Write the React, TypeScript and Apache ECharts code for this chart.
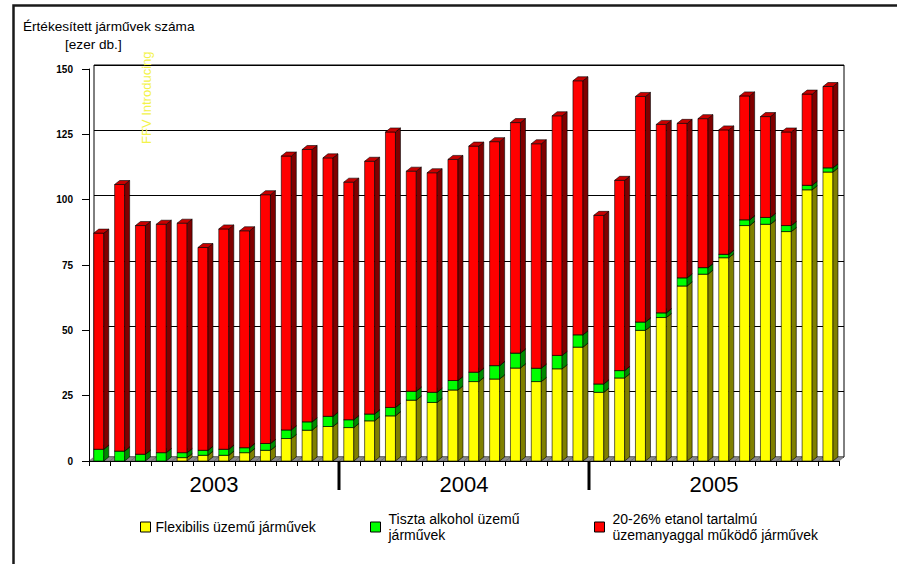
import React, { useEffect, useRef } from "react";
import * as echarts from "echarts";

// Monthly sales, thousand vehicles, 2003–2005
const years = ["2003", "2004", "2005"];
const monthNames = ["01", "02", "03", "04", "05", "06", "07", "08", "09", "10", "11", "12"];

const seriesNames = [
  "Flexibilis üzemű járművek",
  "Tiszta alkohol üzemű járművek",
  "20-26% etanol tartalmú üzemanyaggal működő járművek",
];
const legendLabels = [
  "Flexibilis üzemű járművek",
  "Tiszta alkohol üzemű\njárművek",
  "20-26% etanol tartalmú\nüzemanyaggal működő járművek",
];

const flexFuel = [
  0, 0, 0, 0, 1.3, 2.2, 2.2, 3.2, 4.1, 8.6, 11.8, 13.2,
  12.8, 15.4, 17.3, 23.3, 22.4, 27.2, 30.4, 31.4, 35.6, 30.4, 35.3, 43.6,
  26.3, 31.8, 50.0, 54.9, 67.0, 71.5, 77.8, 90.1, 90.6, 87.8, 103.8, 110.6,
];
const pureAlcohol = [
  4.5, 3.8, 2.6, 3.2, 1.9, 1.9, 2.3, 1.9, 2.6, 3.3, 3.2, 3.9,
  3.0, 2.6, 3.2, 3.4, 3.9, 3.6, 3.6, 5.1, 5.7, 5.1, 5.1, 4.7,
  3.2, 2.8, 3.2, 1.8, 3.1, 2.5, 1.3, 2.2, 2.6, 2.3, 1.7, 1.6,
];
const ethanolBlend = [
  82.7, 102.0, 87.5, 87.4, 87.8, 77.6, 84.3, 83.0, 95.2, 104.8, 104.2, 98.9,
  90.9, 96.7, 105.4, 84.2, 84.0, 84.6, 86.5, 85.7, 88.2, 85.9, 91.7, 97.2,
  64.5, 72.8, 86.3, 72.1, 59.1, 57.0, 47.6, 47.4, 38.6, 35.8, 34.9, 31.1,
];

const yTicks = { min: 0, max: 150, interval: 25 };

// front / side / top face colours of each layer
const faceColors = [
  { front: "#ffff00", side: "#808000", top: "#d6d600" },
  { front: "#00ff00", side: "#008a00", top: "#00c800" },
  { front: "#ff0000", side: "#800000", top: "#c80000" },
];

const categories = years.flatMap((y) => monthNames.map((m) => `${y}.${m}`));
const yearBreaks = years.slice(1).map((_, k) => (k + 1) * monthNames.length);

// depth offset of the pseudo-3D projection, in pixels
const DX = 5;
const DY = -4;
const FONT = "'Liberation Sans', Arial, sans-serif";

function App() {
  const ref = useRef<HTMLDivElement>(null);

  useEffect(() => {
    if (!ref.current) return;
    const chart = echarts.init(ref.current, undefined, { renderer: "svg" });

    const layers = [flexFuel, pureAlcohol, ethanolBlend];
    const stackedRows = layers.map((layer, li) =>
      layer.map((v, i) => {
        let base = 0;
        for (let k = 0; k < li; k++) base += layers[k][i];
        return [i, base, v];
      })
    );

    const barSeries = stackedRows.map((rows, li) => ({
      type: "custom",
      name: seriesNames[li],
      xAxisIndex: 0,
      yAxisIndex: 0,
      itemStyle: { color: faceColors[li].front },
      data: rows,
      encode: { x: 0, y: 2 },
      renderItem: (params: any, api: any) => {
        const i = api.value(0);
        const b = api.value(1);
        const v = api.value(2);
        if (!(v > 0)) return null;
        const p0 = api.coord([i, b]);
        const p1 = api.coord([i, b + v]);
        const band = api.size([1, 0])[0];
        const w = band * 0.48;
        const x0 = p0[0] - band * 0.27;
        const x1 = x0 + w;
        const yb = p0[1];
        const yt = p1[1];
        const c = faceColors[li];
        const stroke = { stroke: "#000", lineWidth: 0.6 };
        return {
          type: "group",
          children: [
            {
              type: "rect",
              shape: { x: x0, y: yt, width: w, height: yb - yt },
              style: { fill: c.front, ...stroke },
            },
            {
              type: "polygon",
              shape: { points: [[x1, yb], [x1 + DX, yb + DY], [x1 + DX, yt + DY], [x1, yt]] },
              style: { fill: c.side, ...stroke },
            },
            {
              type: "polygon",
              shape: { points: [[x0, yt], [x1, yt], [x1 + DX, yt + DY], [x0 + DX, yt + DY]] },
              style: { fill: c.top, ...stroke },
            },
          ],
        };
      },
    }));

    const floorSeries = {
      type: "custom",
      name: "floor",
      xAxisIndex: 0,
      yAxisIndex: 0,
      silent: true,
      data: categories.map((_, i) => [i, 0]),
      renderItem: (params: any, api: any) => {
        const p = api.coord([api.value(0), 0]);
        const band = api.size([1, 0])[0];
        const l = p[0] - band / 2;
        const r = p[0] + band / 2;
        return {
          type: "polygon",
          shape: { points: [[l, p[1]], [r, p[1]], [r + DX, p[1] + DY], [l + DX, p[1] + DY]] },
          style: { fill: "#8c8c8c", stroke: "#555", lineWidth: 0.5 },
        };
      },
    };

    const separatorSeries = {
      type: "custom",
      name: "yearSeparators",
      xAxisIndex: 0,
      yAxisIndex: 0,
      silent: true,
      clip: false,
      data: yearBreaks.map((i) => [i, 0]),
      renderItem: (params: any, api: any) => {
        const p = api.coord([api.value(0), 0]);
        const band = api.size([1, 0])[0];
        const x = p[0] - band / 2;
        return {
          type: "line",
          shape: { x1: x, y1: p[1], x2: x, y2: p[1] + 29 },
          style: { stroke: "#000", lineWidth: 3 },
        };
      },
    };

    const legendPos = [
      { left: 135, top: 514 },
      { left: 365, top: 506 },
      { left: 589, top: 506 },
    ];

    chart.setOption({
      animation: false,
      backgroundColor: "#ffffff",
      textStyle: { fontFamily: FONT },
      grid: [
        { left: 89, top: 69, width: 750, height: 392 },
        {
          left: 94,
          top: 65,
          width: 750,
          height: 392,
          show: true,
          borderColor: "#000",
          borderWidth: 1,
          backgroundColor: "transparent",
        },
      ],
      xAxis: [
        {
          gridIndex: 0,
          type: "category",
          data: categories,
          boundaryGap: true,
          z: 5,
          axisLine: { show: true, lineStyle: { color: "#000", width: 1 } },
          axisTick: { show: true, interval: 0, length: 5, lineStyle: { color: "#000" } },
          axisLabel: { show: false },
          splitLine: { show: false },
        },
        {
          gridIndex: 1,
          type: "category",
          data: categories,
          show: false,
        },
        {
          gridIndex: 0,
          type: "category",
          data: years,
          position: "bottom",
          axisLine: { show: false },
          axisTick: { show: false },
          axisLabel: { fontSize: 22, margin: 12, color: "#000", fontFamily: FONT },
          splitLine: { show: false },
        },
      ],
      yAxis: [
        {
          gridIndex: 0,
          type: "value",
          ...yTicks,
          z: 5,
          axisLine: { show: true, lineStyle: { color: "#000" } },
          axisTick: { show: true, length: 7, lineStyle: { color: "#000" } },
          axisLabel: { fontSize: 10, fontWeight: "bold", color: "#000", margin: 16, fontFamily: FONT },
          splitLine: { show: false },
        },
        {
          gridIndex: 1,
          type: "value",
          ...yTicks,
          axisLine: { show: false },
          axisTick: { show: false },
          axisLabel: { show: false },
          splitLine: { show: true, lineStyle: { color: "#000", width: 1 } },
        },
      ],
      legend: seriesNames.map((name, li) => ({
        data: [name],
        left: legendPos[li].left,
        top: legendPos[li].top,
        orient: "horizontal",
        selectedMode: false,
        icon: "rect",
        itemWidth: 10,
        itemHeight: 10,
        itemGap: 0,
        itemStyle: { borderColor: "#000", borderWidth: 1 },
        formatter: () => legendLabels[li],
        textStyle: {
          fontSize: 14,
          color: "#000",
          fontFamily: FONT,
          lineHeight: 16,
          padding: li === 0 ? [0, 0, 0, 0] : [0, 0, 0, 3],
        },
      })),
      graphic: [
        {
          type: "polyline",
          shape: { points: [[13.5, 564], [13.5, 5.5], [897, 5.5]] },
          style: { stroke: "#1a1a1a", lineWidth: 2.5, fill: "none" },
          silent: true,
        },
        {
          type: "text",
          left: 23,
          top: 19,
          style: { text: "Értékesített járművek száma", fontSize: 13.6, fill: "#000", fontFamily: FONT },
        },
        {
          type: "text",
          left: 65,
          top: 37,
          style: { text: "[ezer db.]", fontSize: 13.6, fill: "#000", fontFamily: FONT },
        },
        {
          type: "text",
          x: 146,
          y: 144,
          rotation: Math.PI / 2,
          style: {
            text: "FFV Introducing",
            fontSize: 13,
            fill: "#f3f34a",
            fontFamily: FONT,
            textAlign: "left",
            textVerticalAlign: "middle",
          },
          z: 10,
        },
      ],
      series: [floorSeries, ...barSeries, separatorSeries],
    });

    return () => chart.dispose();
  }, []);

  return (
    <div
      ref={ref}
      style={{ position: "fixed", left: 0, top: 0, width: 897, height: 564, background: "#fff" }}
    />
  );
}

export default App;
